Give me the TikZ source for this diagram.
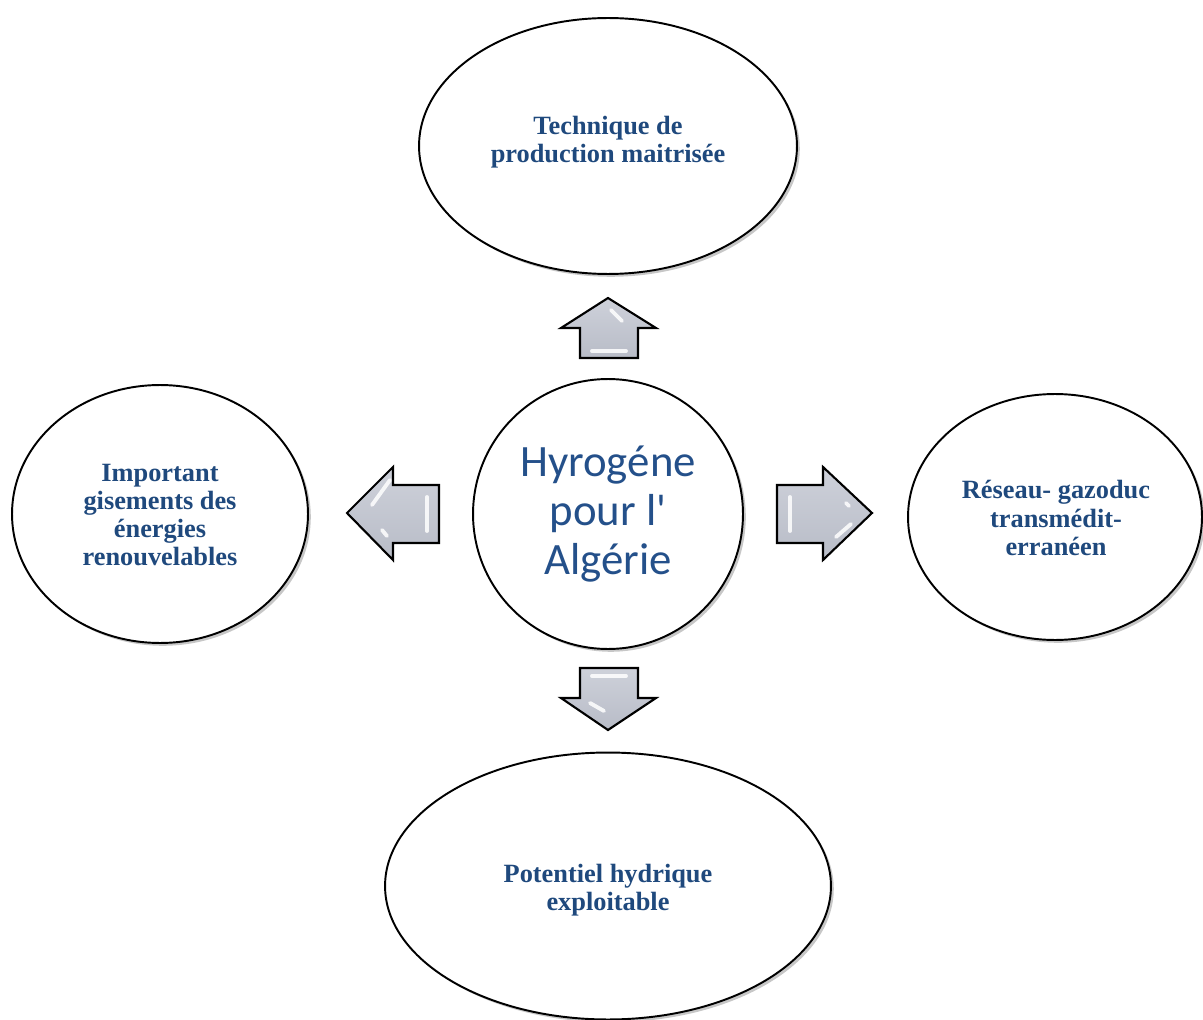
\documentclass[tikz,border=0pt]{standalone}
\usepackage{fontspec}
\setmainfont{Liberation Serif}
\newfontfamily\calib{Carlito}
\usetikzlibrary{shapes.geometric,shadows}
\definecolor{txtblue}{RGB}{31,73,125}
\definecolor{hubblue}{RGB}{36,80,138}
\definecolor{arrowhi}{RGB}{206,209,218}
\definecolor{arrowlo}{RGB}{184,188,199}
\tikzset{
  bubble/.style={ellipse, draw=black, line width=1.1pt, fill=white, inner sep=0pt, outer sep=0pt,
    drop shadow={shadow xshift=1.6pt, shadow yshift=-1.6pt, opacity=0.22, fill=black}},
  bubbletext/.style={inner sep=0pt, align=center, text=txtblue,
    font=\fontsize{15}{16}\selectfont\bfseries},
  hub/.style={circle, draw=black, line width=1.1pt, fill=white, inner sep=0pt, outer sep=0pt,
    minimum size=5.4cm, align=center, text=hubblue, font=\calib\fontsize{25.5}{27.8}\selectfont,
    drop shadow={shadow xshift=1.6pt, shadow yshift=-1.6pt, opacity=0.22, fill=black}},
  blockarrow/.style={draw=black, line width=1.2pt, line join=miter, top color=arrowhi, bottom color=arrowlo},
  glint/.style={white, line width=2.2pt, line cap=round, opacity=0.85}
}
\begin{document}
\begin{tikzpicture}[x=0.02cm, y=-0.02cm]
  \path[use as bounding box] (0,0) rectangle (1203,1020);

  % central theme
  \node[hub] (hub) at (608,514) {Hyrogéne\\pour l'\\Algérie};

  % surrounding themes
  \node[bubble, minimum width=7.56cm, minimum height=5.12cm] (tech) at (608,146) {};
  \node[bubbletext] (techtext) at (608,142) {Technique de\\production maitrisée};
  \node[bubble, minimum width=5.92cm, minimum height=5.16cm] (gis) at (160,514) {};
  \node[bubbletext] (gistext) at (160,515) {Important\\gisements des\\énergies\\renouvelables};
  \node[bubble, minimum width=5.88cm, minimum height=4.92cm] (res) at (1055,517) {};
  \node[bubbletext] (restext) at (1056,518) {Réseau- gazoduc\\transmédit-\\erranéen};
  \node[bubble, minimum width=8.92cm, minimum height=5.34cm] (pot) at (608,886) {};
  \node[bubbletext] (pottext) at (608,890) {Potentiel hydrique\\exploitable};

  % block arrows pointing away from the hub
  % up
  \draw[blockarrow] (580,358) -- (580,328) -- (561,328) -- (608,298) -- (656,328)
    -- (638,328) -- (638,358) -- cycle;
  \draw[glint] (592,351) -- (626,351);
  \draw[glint] (611,310) -- (622,321);
  % left
  \draw[blockarrow] (439,485) -- (393,485) -- (393,467) -- (347,513) -- (393,560)
    -- (393,543) -- (439,543) -- cycle;
  \draw[glint] (427,497) -- (427,531);
  \draw[glint] (390,480) -- (372,505);
  \draw[glint] (382,530) -- (387,536);
  % right
  \draw[blockarrow] (777,485) -- (823,485) -- (823,467) -- (872,513) -- (823,560)
    -- (823,543) -- (777,543) -- cycle;
  \draw[glint] (790,497) -- (790,531);
  \draw[glint] (851,524) -- (836,537);
  \draw[glint] (846,503) -- (849,506);
  % down
  \draw[blockarrow] (580,668) -- (638,668) -- (638,698) -- (656,698) -- (608,730)
    -- (561,698) -- (580,698) -- cycle;
  \draw[glint] (592,676) -- (626,676);
  \draw[glint] (590,703) -- (604,711);
\end{tikzpicture}
\end{document}
